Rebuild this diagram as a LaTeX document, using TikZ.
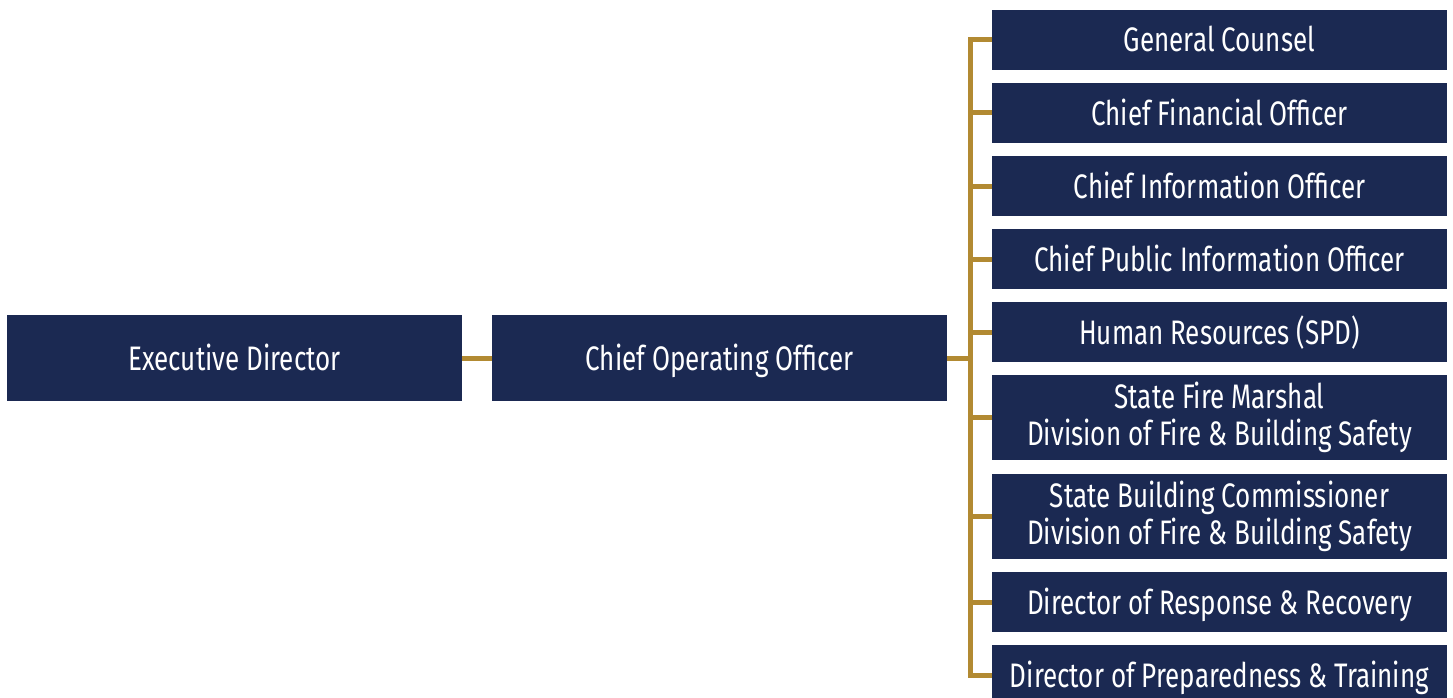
\documentclass[tikz,border=0pt]{standalone}
\usepackage{fontspec}
\setmainfont{Fira Sans}[FakeStretch=0.765]
\usetikzlibrary{positioning}
\definecolor{navy}{HTML}{1B2952}
\definecolor{gold}{HTML}{B28A32}

\begin{document}
\begin{tikzpicture}[x=1pt,y=-1pt,
		orgbox/.style={fill=navy, text=white, minimum width=455pt, inner sep=0pt, outer sep=0pt, align=center, font=\fontsize{34}{37}\selectfont},
		onebox/.style={orgbox, minimum height=60pt, text height=28pt, text depth=4pt},
		twobox/.style={orgbox, minimum height=85pt},
		link/.style={draw=gold, line width=5pt}]
	\useasboundingbox (0,0) rectangle (1453,698);
	\clip (0,0) rectangle (1453,698);

	\node[onebox, minimum height=86pt] (exec) at (234.5,358) {Executive Director};
	\node[onebox, minimum height=86pt] (coo) at (719.5,358) {Chief Operating Officer};

	\node[onebox] (counsel) at (1219.5,40) {General Counsel};
	\node[onebox, below=13pt of counsel] (cfo) {Chief Financial Officer};
	\node[onebox, below=13pt of cfo] (cio) {Chief Information Officer};
	\node[onebox, below=13pt of cio] (cpio) {Chief Public Information Officer};
	\node[onebox, below=13pt of cpio] (hr) {Human Resources (SPD)};
	\node[twobox, below=13pt of hr] (marshal) {State Fire Marshal\\Division of Fire \& Building Safety};
	\node[twobox, below=13.5pt of marshal] (building) {State Building Commissioner\\Division of Fire \& Building Safety};
	\node[onebox, below=13.5pt of building] (response) {Director of Response \& Recovery};
	\node[onebox, below=13pt of response] (prep) {Director of Preparedness \& Training};

	\coordinate[right=23pt of coo.east] (bus);

	\draw[link] (exec) -- (coo);
	\draw[link] (coo) -- (bus);
	\draw[link] (bus) |- (counsel.west);
	\draw[link] (bus) |- (prep.west);
	\foreach \sub in {cfo,cio,cpio,hr,marshal,building,response}
		\draw[link] (bus) |- (\sub.west);
\end{tikzpicture}
\end{document}
